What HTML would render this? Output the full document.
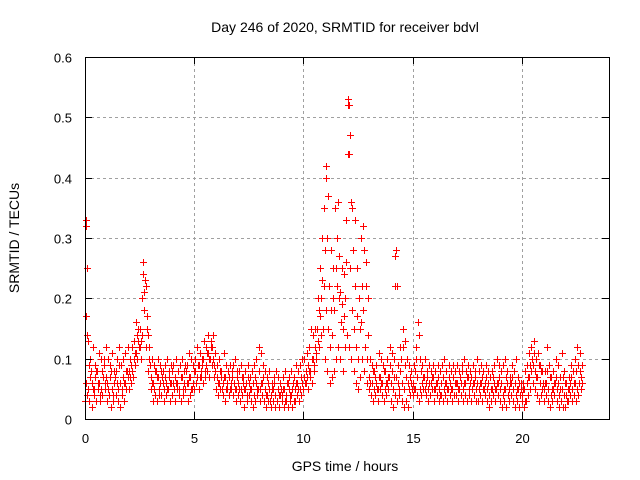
<!DOCTYPE html>
<html><head><meta charset="utf-8">
<style>
html,body{margin:0;padding:0;background:#fff;}
svg{display:block;font-family:"Liberation Sans",sans-serif;}
</style></head>
<body>
<svg id="chart" width="640" height="480" viewBox="0 0 640 480" xmlns="http://www.w3.org/2000/svg">
<rect width="640" height="480" fill="#fff"/>
<text x="345" y="32" font-size="14" text-anchor="middle" fill="#000">Day 246 of 2020, SRMTID for receiver bdvl</text>
<text x="345" y="471" font-size="14" text-anchor="middle" fill="#000">GPS time / hours</text>
<text transform="translate(19,238) rotate(-90)" font-size="14" text-anchor="middle" fill="#000">SRMTID / TECUs</text>
<g id="grid"></g>
<g id="marks"></g>
<g id="axes"></g>
</svg>
<script>
const xTicks=[0,5,10,15,20];
const yTicks=[0,0.1,0.2,0.3,0.4,0.5,0.6];
const yTickLabels=["0","0.1","0.2","0.3","0.4","0.5","0.6"];
const tStart=0, tStep=0.1;
const seriesA=[
.03,.04,.03,.02,.04,.03,.05,.03,.04,.05,
.03,.04,.02,.03,.04,.03,.02,.04,.03,.05,
.05,.06,.07,.09,.10,.12,.14,.18,.12,.08,
.05,.03,.04,.03,.05,.04,.03,.04,.05,.03,
.04,.03,.05,.04,.03,.04,.05,.03,.04,.05,
.05,.06,.05,.07,.06,.07,.08,.07,.09,.07,
.05,.04,.05,.04,.03,.05,.04,.05,.04,.03,
.04,.03,.04,.02,.03,.04,.03,.02,.03,.04,
.03,.04,.03,.02,.03,.02,.03,.02,.03,.02,
.03,.02,.03,.02,.03,.02,.03,.04,.03,.04,
.05,.06,.05,.07,.06,.08,.10,.12,.14,.15,
.10,.08,.06,.07,.08,.10,.12,.10,.08,.12,
.14,.12,.10,.08,.06,.05,.07,.10,.08,.06,
.05,.04,.03,.04,.03,.05,.04,.03,.04,.05,
.03,.02,.04,.03,.04,.03,.02,.03,.02,.04,
.04,.05,.04,.03,.04,.05,.04,.03,.04,.05,
.03,.04,.03,.04,.03,.04,.03,.04,.03,.04,
.04,.03,.04,.03,.04,.03,.04,.03,.04,.03,
.03,.04,.03,.04,.03,.02,.03,.04,.03,.04,
.03,.02,.03,.02,.03,.04,.03,.02,.03,.02,
.03,.02,.03,.04,.05,.06,.05,.04,.03,.04,
.03,.04,.03,.02,.03,.04,.03,.02,.03,.02,
.02,.03,.04,.03,.04,.03,.04,.05];
const seriesB=[
.06,.05,.07,.06,.05,.08,.06,.05,.07,.06,
.06,.07,.05,.06,.08,.05,.06,.07,.06,.08,
.08,.09,.10,.11,.13,.15,.20,.21,.15,.10,
.07,.06,.08,.07,.06,.07,.05,.06,.07,.06,
.06,.07,.06,.05,.07,.06,.08,.06,.07,.06,
.08,.07,.09,.08,.10,.09,.11,.10,.12,.09,
.07,.06,.07,.06,.07,.06,.05,.07,.06,.05,
.06,.05,.06,.05,.04,.06,.05,.04,.06,.05,
.05,.06,.05,.04,.05,.04,.05,.04,.05,.04,
.04,.05,.04,.05,.04,.06,.05,.06,.05,.06,
.07,.08,.09,.08,.10,.12,.15,.18,.20,.22,
.18,.15,.12,.14,.18,.22,.20,.16,.15,.20,
.44,.25,.18,.15,.12,.10,.16,.18,.12,.10,
.07,.06,.05,.06,.05,.07,.06,.05,.06,.07,
.06,.05,.07,.06,.08,.06,.05,.07,.05,.06,
.06,.08,.07,.05,.06,.07,.06,.05,.06,.07,
.05,.06,.05,.06,.05,.06,.05,.06,.05,.06,
.06,.05,.06,.05,.06,.07,.06,.05,.06,.05,
.05,.06,.05,.06,.05,.04,.05,.06,.05,.06,
.05,.04,.05,.06,.05,.06,.05,.04,.05,.04,
.04,.05,.06,.07,.08,.09,.08,.07,.06,.05,
.05,.06,.05,.04,.05,.06,.05,.04,.05,.04,
.04,.05,.06,.05,.06,.05,.06,.07];
const seriesC=[
.33,.13,.10,.12,.09,.08,.11,.10,.09,.12,
.10,.09,.11,.08,.10,.12,.09,.10,.11,.12,
.10,.12,.13,.16,.15,.13,.24,.23,.17,.12,
.10,.09,.08,.10,.09,.08,.09,.10,.08,.09,
.09,.10,.08,.09,.10,.08,.09,.11,.10,.09,
.10,.12,.11,.10,.13,.12,.14,.13,.14,.11,
.09,.10,.08,.11,.09,.08,.09,.08,.10,.08,
.08,.09,.07,.08,.09,.07,.08,.09,.10,.12,
.11,.09,.08,.07,.08,.06,.07,.08,.07,.06,
.07,.08,.06,.07,.08,.07,.09,.08,.09,.10,
.10,.11,.12,.15,.14,.15,.20,.25,.30,.35,
.42,.37,.28,.25,.35,.30,.27,.25,.24,.33,
.53,.47,.35,.33,.25,.20,.30,.32,.26,.20,
.10,.09,.08,.09,.11,.10,.09,.08,.10,.12,
.11,.10,.28,.09,.12,.15,.13,.10,.09,.08,
.09,.12,.16,.10,.09,.10,.08,.09,.08,.09,
.08,.09,.08,.09,.10,.08,.09,.08,.09,.08,
.09,.08,.09,.10,.08,.09,.08,.09,.08,.10,
.08,.09,.08,.09,.08,.07,.08,.09,.10,.09,
.08,.09,.10,.08,.07,.09,.08,.10,.07,.06,
.06,.08,.09,.11,.12,.13,.10,.11,.09,.08,
.08,.12,.09,.07,.08,.10,.09,.07,.11,.08,
.06,.07,.09,.08,.10,.12,.11,.09];
const seriesD=[
.25,.09,.08,.05,.07,.06,.04,.08,.10,.07,
.05,.08,.04,.07,.06,.09,.05,.06,.08,.07,
.07,.08,.11,.14,.12,.10,.26,.22,.14,.09,
.06,.05,.07,.04,.08,.06,.07,.05,.06,.08,
.05,.06,.08,.07,.05,.09,.06,.07,.05,.08,
.06,.09,.07,.09,.08,.11,.10,.12,.10,.08,
.06,.08,.05,.07,.05,.07,.06,.09,.05,.07,
.05,.07,.05,.06,.07,.05,.06,.07,.05,.08,
.06,.07,.04,.06,.03,.05,.06,.03,.04,.05,
.05,.03,.06,.04,.05,.03,.06,.05,.07,.05,
.06,.07,.08,.10,.09,.11,.13,.17,.23,.28,
.30,.22,.18,.20,.25,.36,.21,.19,.17,.26,
.52,.36,.28,.22,.17,.15,.22,.28,.22,.14,
.06,.08,.07,.05,.07,.06,.08,.06,.07,.09,
.08,.07,.22,.05,.10,.12,.09,.06,.07,.05,
.05,.10,.14,.08,.07,.05,.07,.06,.07,.05,
.06,.07,.04,.07,.06,.05,.07,.05,.07,.06,
.05,.07,.08,.06,.07,.05,.07,.06,.07,.06,
.06,.07,.05,.07,.06,.05,.07,.05,.06,.07,
.06,.05,.07,.04,.06,.07,.06,.05,.06,.05,
.05,.03,.07,.09,.10,.11,.07,.09,.08,.06,
.06,.08,.07,.05,.06,.07,.06,.05,.07,.06,
.03,.05,.07,.06,.08,.09,.08,.06];
const extraTimes=[0.05,0.06,0.1,12.05,12.1,11.05,14.22,14.2];
const extraValues=[0.32,0.17,0.14,0.52,0.44,0.40,0.27,0.22];

const X0=85,X1=609,Y0=419,Y1=57,XMAX=24,YMAX=0.6;
const xs=v=>X0+(v/XMAX)*(X1-X0);
const ys=v=>Y0-(v/YMAX)*(Y0-Y1);
const NS="http://www.w3.org/2000/svg";
const grid=document.getElementById('grid'),axes=document.getElementById('axes'),marks=document.getElementById('marks');
function mk(tag,attrs,parent){const e=document.createElementNS(NS,tag);for(const k in attrs)e.setAttribute(k,attrs[k]);parent.appendChild(e);return e;}

yTicks.forEach((v,i)=>{
  const y=Math.round(ys(v))+0.5;
  if(v>0&&v<YMAX){const g=mk('line',{x1:X0,x2:X1,y1:y,y2:y,stroke:'#a0a0a0','stroke-dasharray':'3,3','stroke-width':1},grid);
  
  }
  mk('line',{x1:X0,x2:X0+7,y1:y,y2:y,stroke:'#000'},axes);
  mk('line',{x1:X1-7,x2:X1,y1:y,y2:y,stroke:'#000'},axes);
  const t=mk('text',{x:72,y:y+5,'font-size':13,'text-anchor':'end',fill:'#000'},axes);
  t.textContent=yTickLabels[i];
  
  
});
xTicks.forEach(v=>{
  const x=Math.round(xs(v))+0.5;
  if(v>0){const g=mk('line',{x1:x,x2:x,y1:Y1,y2:Y0,stroke:'#a0a0a0','stroke-dasharray':'3,3','stroke-width':1},grid);
  
  }
  mk('line',{x1:x,x2:x,y1:Y0,y2:Y0-7,stroke:'#000'},axes);
  mk('line',{x1:x,x2:x,y1:Y1,y2:Y1+7,stroke:'#000'},axes);
  const t=mk('text',{x:x,y:443,'font-size':13,'text-anchor':'middle',fill:'#000'},axes);
  t.textContent=String(v);
  
  
});
const border=mk('rect',{x:X0+0.5,y:Y1+0.5,width:X1-X0,height:Y0-Y1,fill:'none',stroke:'#000','stroke-width':1},axes);



function drawPlus(x,y,name){
  x=Math.round(x);y=Math.round(y);
  const h=mk('rect',{x:x-3,y:y,width:7,height:1,fill:'#ff0000'},marks);
  
  
  const v=mk('rect',{x:x,y:y-3,width:1,height:7,fill:'#ff0000'},marks);
  
  
}
const allSeries=[seriesA,seriesB,seriesC,seriesD];
allSeries.forEach((s,si)=>{
  s.forEach((v,i)=>{drawPlus(xs(tStart+i*tStep+si*0.025),ys(v),'srmtid-point');});
});
extraTimes.forEach((t,i)=>{drawPlus(xs(t),ys(extraValues[i]),'srmtid-outlier');});
</script>
</body></html>
